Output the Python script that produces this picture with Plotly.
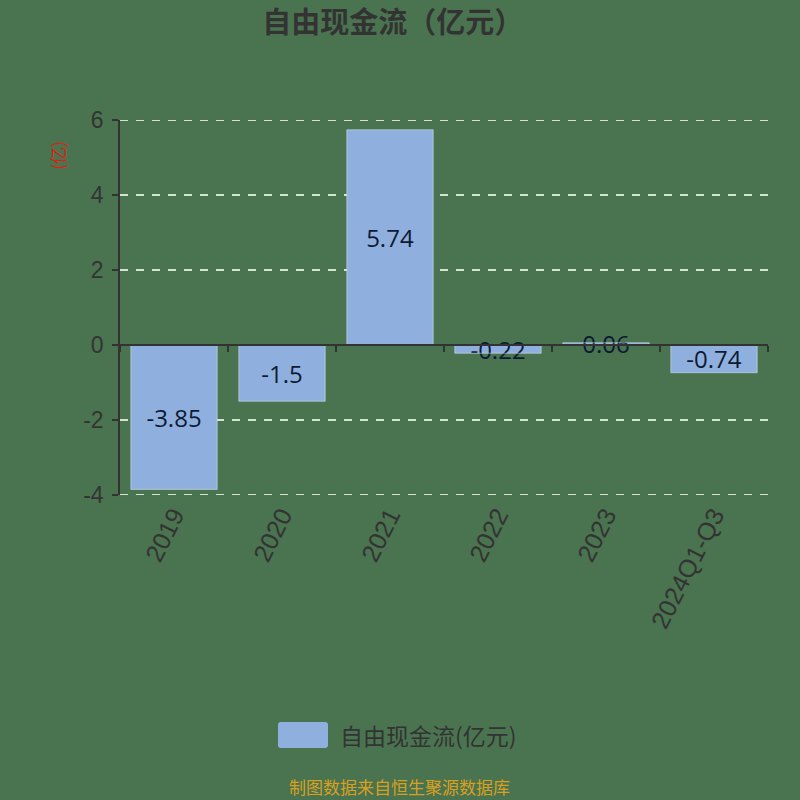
import plotly.graph_objects as go

categories = ["2019", "2020", "2021", "2022", "2023", "2024Q1-Q3"]
values = [-3.85, -1.5, 5.74, -0.22, 0.06, -0.74]
labels = ["-3.85", "-1.5", "5.74", "-0.22", "0.06", "-0.74"]
yticks = [-4, -2, 0, 2, 4, 6]
yticktext = ["-4", "-2", "0", "2", "4", "6"]

bg = "#4a7350"
bar_color = "#8fb0de"
grid_color = "#d4e4d0"
grid_dash = "8px,8px"

fig = go.Figure()
fig.add_trace(go.Bar(
    x=categories, y=values, name="自由现金流(亿元)",
    marker=dict(color=bar_color, line=dict(width=0)),
    width=0.8,
    text=labels, textposition="inside", insidetextanchor="middle",
    textfont=dict(family="Open Sans", size=24, color="#0d1a33"),
    constraintext="none", cliponaxis=False, showlegend=False,
))
# invisible copy for the zero-positioned axis
fig.add_trace(go.Bar(
    x=categories, y=values, xaxis="x2", showlegend=False,
    marker=dict(color="rgba(0,0,0,0)"), hoverinfo="skip",
))

# edge gridlines (plotly hides gridlines at the range boundaries)
edge_grid = [dict(type="line", xref="paper", yref="y", x0=0, x1=1, y0=v, y1=v,
                  line=dict(color=grid_color, width=2, dash=grid_dash), layer="below")
             for v in (min(yticks), max(yticks))]

legend_box = dict(type="path", xref="paper", yref="paper",
                  path="M 0.2484,-0.6053 L 0.3164,-0.6053 Q 0.321,-0.6053 0.321,-0.6133 L 0.321,-0.6667 "
                       "Q 0.321,-0.6747 0.3164,-0.6747 L 0.2484,-0.6747 Q 0.2438,-0.6747 0.2438,-0.6667 "
                       "L 0.2438,-0.6133 Q 0.2438,-0.6053 0.2484,-0.6053 Z",
                  fillcolor=bar_color, line=dict(width=0))

fig.update_layout(
    width=800, height=800,
    paper_bgcolor=bg, plot_bgcolor=bg,
    margin=dict(l=120, r=32, t=120, b=305),
    title=dict(text="<b>自由现金流（亿元）</b>", x=0.491, xanchor="center", y=0.972, yanchor="middle",
               font=dict(family="Noto Sans CJK SC", size=29, color="#333333")),
    showlegend=False,
    bargap=0.2,
    xaxis=dict(
        type="category", range=[-0.5, 5.5],
        showline=False, showgrid=False, ticks="", zeroline=False,
        tickangle=-63, tickfont=dict(family="Arial, Liberation Sans", size=25, color="#333333"),
        ticklabelstandoff=0,
    ),
    xaxis2=dict(
        type="category", range=[-0.5, 5.5], overlaying="x", anchor="free", position=0.4,
        showline=True, linecolor="#333333", linewidth=1.5,
        ticks="outside", tickson="boundaries", ticklen=6, tickcolor="#333333", tickwidth=1.5,
        showticklabels=False, showgrid=False, zeroline=False,
    ),
    yaxis=dict(
        range=[-4, 6], tickvals=yticks, ticktext=yticktext,
        showline=True, linecolor="#333333", linewidth=1.5,
        ticks="outside", ticklen=6, tickcolor="#333333", tickwidth=1.5,
        tickfont=dict(family="Arial, Liberation Sans", size=23, color="#333333"),
        ticklabelstandoff=4,
        showgrid=True, gridcolor=grid_color, gridwidth=2, griddash=grid_dash,
        zeroline=False,
    ),
    shapes=edge_grid + [legend_box],
    annotations=[
        dict(text="(亿)", xref="paper", yref="paper", x=-0.0957, y=0.907, showarrow=False,
             xanchor="center", yanchor="middle", textangle=-90,
             font=dict(family="Noto Sans CJK SC", size=17, color="#e02010")),
        dict(text="自由现金流(亿元)", xref="paper", yref="paper", x=0.3364, y=-0.64,
             xanchor="left", yanchor="middle", showarrow=False,
             font=dict(family="Noto Sans CJK SC", size=23, color="#333333")),
        dict(text="制图数据来自恒生聚源数据库", xref="paper", yref="paper", x=0.432, y=-0.777,
             showarrow=False, xanchor="center", yanchor="middle",
             font=dict(family="Noto Sans CJK SC", size=17, color="#d9a020")),
    ],
)

fig.write_html("out.html", config={"displayModeBar": False},
               post_script="document.body.style.margin='0';document.body.style.overflow='hidden';")
